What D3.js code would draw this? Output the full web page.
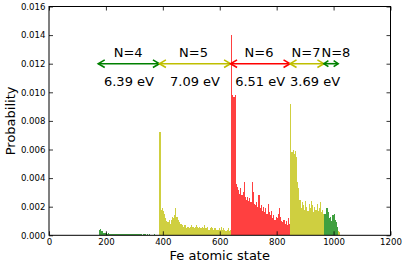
<!DOCTYPE html>
<html>
<head>
<meta charset="utf-8">
<script src="https://cdn.jsdelivr.net/npm/d3@7"></script>
<style>
  html, body { margin: 0; padding: 0; background: #fff; }
  svg { display: block; font-family: "DejaVu Sans", sans-serif; }
</style>
</head>
<body>
<svg id="chart" width="407" height="264"></svg>
<script>
// ---- data ----
const binWidth = 4;
const regionStarts = [176, 388, 640, 848, 968, 1016];
const regionColors = ["green", "yellow", "red", "yellow", "green", "yellow"];

const greenLowValues = [
  0.00040, 0.00042, 0.00030, 0.00016, 0.00014, 0.00015, 0.00013, 0.00012, 0.00013, 0.00011,
  0.00012, 0.00010, 0.00011, 0.00012, 0.00010, 0.00009, 0.00011, 0.00010, 0.00009, 0.00010,
  0.00008, 0.00009, 0.00010, 0.00008, 0.00009, 0.00008, 0.00007, 0.00009, 0.00008, 0.00007,
  0.00008, 0.00007, 0.00006, 0.00008, 0.00007, 0.00006, 0.00007, 0.00006, 0.00005, 0.00007,
  0.00006, 0.00005, 0.00006, 0.00005, 0.00006, 0.00005, 0.00004, 0.00005, 0.00006, 0.00004,
  0.00005, 0.00004, 0.00005
];
const yellowLowValues = [
  0.0072, 0.0018, 0.0019, 0.0017, 0.0015, 0.0012, 0.0010, 0.0009, 0.0011, 0.0008,
  0.0011, 0.0013, 0.0012, 0.0014, 0.0019, 0.0013, 0.0011, 0.0009, 0.0008, 0.0008,
  0.0007, 0.0006, 0.0007, 0.0005, 0.0006, 0.0006, 0.0005, 0.0006, 0.0007, 0.0006,
  0.0005, 0.0006, 0.0007, 0.0006, 0.0005, 0.0006, 0.0005, 0.0006, 0.0005, 0.0007,
  0.0005, 0.0005, 0.0006, 0.0004, 0.0005, 0.0006, 0.0005, 0.0004, 0.0005, 0.0005,
  0.0004, 0.0004, 0.0005, 0.0004, 0.0006, 0.0004, 0.0005, 0.0004, 0.0003, 0.0004,
  0.0005, 0.0003, 0.0004
];
const redValues = [
  0.0140, 0.0098, 0.0097, 0.0098, 0.0036, 0.0034, 0.0032, 0.0029, 0.0033, 0.0028,
  0.0030, 0.0037, 0.0027, 0.0025, 0.0027, 0.0024, 0.0026, 0.0023, 0.0037, 0.0030,
  0.0022, 0.0021, 0.0023, 0.0020, 0.0028, 0.0019, 0.0021, 0.0017, 0.0020, 0.0016,
  0.0019, 0.0015, 0.0022, 0.0016, 0.0014, 0.0017, 0.0012, 0.0014, 0.0011, 0.0013,
  0.0012, 0.0015, 0.0019, 0.0013, 0.0010, 0.0009, 0.0011, 0.0008, 0.0010, 0.0007,
  0.0012, 0.0008
];
const yellowHighValues = [
  0.0092, 0.0058, 0.0060, 0.0057, 0.0059, 0.0055, 0.0037, 0.0033, 0.0025, 0.0019,
  0.0023, 0.0021, 0.0018, 0.0024, 0.0020, 0.0017, 0.0022, 0.0019, 0.0024, 0.0021,
  0.0016, 0.0020, 0.0018, 0.0022, 0.0017, 0.0019, 0.0023, 0.0016, 0.0018, 0.0015
];
const greenHighValues = [
  0.0015, 0.0019, 0.0019, 0.0016, 0.0012, 0.0013, 0.0010, 0.0014, 0.0015, 0.0011,
  0.0009, 0.0006
];
const yellowTailValues = [0.0003, 0.0002];

const arrowRanges = [[173, 388], [388, 638], [638, 847], [847, 966], [966, 1016]];
const arrowColors = ["green", "yellow", "red", "yellow", "green"];
const nLabels = ["N=4", "N=5", "N=6", "N=7", "N=8"];
const nLabelX = [278, 508, 738, 903, 1008];
const energyLabels = ["6.39 eV", "7.09 eV", "6.51 eV", "3.69 eV"];
const energyLabelX = [281, 513, 742, 935];
const arrowLevel = 0.012;
const nLabelLevel = 0.0125;
const energyLabelLevel = 0.01045;

const xTicks = [0, 200, 400, 600, 800, 1000, 1200];
const yTicks = [0.000, 0.002, 0.004, 0.006, 0.008, 0.010, 0.012, 0.014, 0.016];

// ---- styles ----
const barFill = { green: "#008000", yellow: "#bfbf00", red: "#ff0000" };
const arrowStroke = { green: "#008000", yellow: "#bfbf00", red: "#ff0000" };

// ---- layout ----
const svg = d3.select("#chart");
const margin = { left: 49, right: 16.5, top: 6.5, bottom: 28.7 };
const W = 407, H = 264;
const x = d3.scaleLinear().domain([0, 1200]).range([margin.left, W - margin.right]);
const y = d3.scaleLinear().domain([0, 0.016]).range([H - margin.bottom, margin.top]);

// build bins
const allRegions = [greenLowValues, yellowLowValues, redValues, yellowHighValues, greenHighValues, yellowTailValues];
const bins = [];
allRegions.forEach((vals, r) => {
  vals.forEach((v, i) => {
    bins.push({ x0: regionStarts[r] + i * binWidth, x1: regionStarts[r] + (i + 1) * binWidth, v, c: regionColors[r] });
  });
});

svg.append("g").selectAll("rect").data(bins).join("rect")
  .attr("x", d => x(d.x0))
  .attr("width", d => x(d.x1) - x(d.x0))
  .attr("y", d => y(d.v))
  .attr("height", d => y(0) - y(d.v))
  .attr("fill", d => barFill[d.c])
  .attr("fill-opacity", 0.75)
  .attr("shape-rendering", "crispEdges");

// axes (ticks inside, all four sides)
const fmtY = d3.format(".3f");
const tickLen = 4;
const axL = d3.axisLeft(y).tickValues(yTicks).tickFormat(fmtY).tickSizeInner(-tickLen).tickSizeOuter(0).tickPadding(3.5);
const axR = d3.axisRight(y).tickValues(yTicks).tickFormat("").tickSizeInner(-tickLen).tickSizeOuter(0);
const axB = d3.axisBottom(x).tickValues(xTicks).tickFormat(d3.format("d")).tickSizeInner(-tickLen).tickSizeOuter(0).tickPadding(4);
const axT = d3.axisTop(x).tickValues(xTicks).tickFormat("").tickSizeInner(-tickLen).tickSizeOuter(0);

function styleAxis(g) {
  g.select(".domain").remove();
  g.selectAll("line").attr("stroke", "#000").attr("stroke-width", 0.8);
  g.selectAll("text").attr("font-family", "DejaVu Sans").attr("font-size", 8.6).attr("fill", "#000");
}
svg.append("g").attr("transform", `translate(${x(0)},0)`).call(axL).call(styleAxis);
svg.append("g").attr("transform", `translate(${x(1200)},0)`).call(axR).call(styleAxis);
svg.append("g").attr("transform", `translate(0,${y(0)})`).call(axB).call(styleAxis);
svg.append("g").attr("transform", `translate(0,${y(0.016)})`).call(axT).call(styleAxis);

// frame
svg.append("rect")
  .attr("x", x(0)).attr("y", y(0.016))
  .attr("width", x(1200) - x(0)).attr("height", y(0) - y(0.016))
  .attr("fill", "none").attr("stroke", "#000").attr("stroke-width", 1);

// arrows
const ag = svg.append("g");
arrowRanges.forEach((r, i) => {
  const x0 = x(r[0]), x1 = x(r[1]), yy = y(arrowLevel);
  const col = arrowStroke[arrowColors[i]];
  const hl = (x1 - x0) < 20 ? 4.5 : 6.5;
  const hw = (x1 - x0) < 20 ? 3 : 3.8;
  ag.append("line").attr("x1", x0).attr("x2", x1).attr("y1", yy).attr("y2", yy)
    .attr("stroke", col).attr("stroke-width", 1.6);
  const heads = [
    [[x0 + hl, yy - hw], [x0, yy], [x0 + hl, yy + hw]],
    [[x1 - hl, yy - hw], [x1, yy], [x1 - hl, yy + hw]]
  ];
  heads.forEach(h => {
    ag.append("path").attr("d", d3.line()(h))
      .attr("fill", "none").attr("stroke", col).attr("stroke-width", 1.6)
      .attr("stroke-linejoin", "miter");
  });
});

// labels
svg.append("g").selectAll("text").data(nLabels).join("text")
  .attr("x", (d, i) => x(nLabelX[i])).attr("y", y(nLabelLevel))
  .attr("text-anchor", "middle").attr("font-size", 13).attr("fill", "#000")
  .text(d => d);
svg.append("g").selectAll("text").data(energyLabels).join("text")
  .attr("x", (d, i) => x(energyLabelX[i])).attr("y", y(energyLabelLevel))
  .attr("text-anchor", "middle").attr("font-size", 13).attr("fill", "#000")
  .text(d => d);

// axis titles
svg.append("text")
  .attr("x", (x(0) + x(1200)) / 2).attr("y", 259.5)
  .attr("text-anchor", "middle").attr("font-size", 13).text("Fe atomic state");
svg.append("text")
  .attr("transform", `translate(14.5,${(y(0) + y(0.016)) / 2}) rotate(-90)`)
  .attr("text-anchor", "middle").attr("font-size", 13).text("Probability");
</script>
</body>
</html>
